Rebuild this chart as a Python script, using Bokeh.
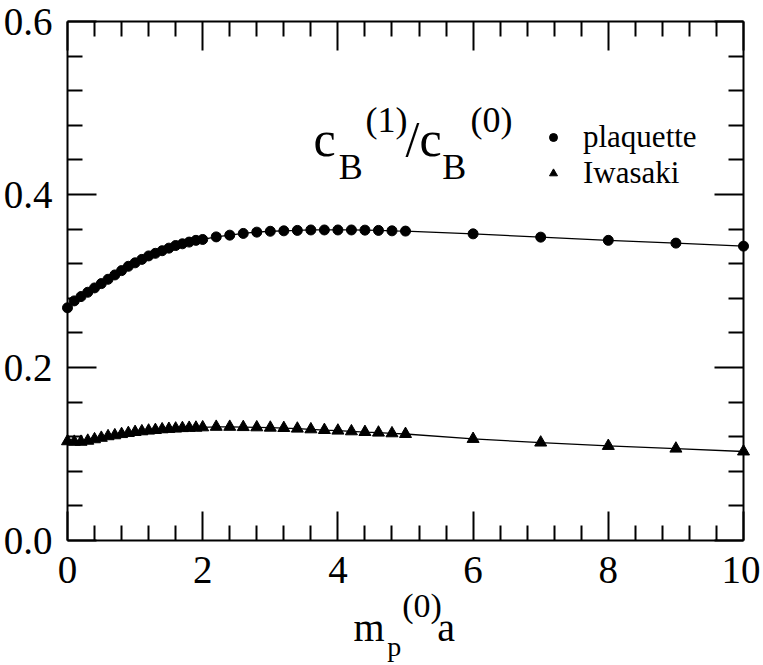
from bokeh.plotting import figure
from bokeh.models import (Range1d, LinearAxis, FixedTicker, PrintfTickFormatter,
                          Label, Legend, LegendItem, ColumnDataSource)
from bokeh.embed import file_html
from bokeh.resources import INLINE

FONT = "Liberation Serif"

# ---- data ----
x_plaq = [0.0, 0.1, 0.2, 0.3, 0.4, 0.5, 0.6, 0.7, 0.8, 0.9, 1.0,
          1.1, 1.2, 1.3, 1.4, 1.5, 1.6, 1.7, 1.8, 1.9, 2.0,
          2.2, 2.4, 2.6, 2.8, 3.0, 3.2, 3.4, 3.6, 3.8, 4.0,
          4.2, 4.4, 4.6, 4.8, 5.0, 6.0, 7.0, 8.0, 9.0, 10.0]
y_plaq = [0.269, 0.277, 0.282, 0.287, 0.292, 0.297, 0.302, 0.307, 0.312, 0.317, 0.321,
          0.325, 0.329, 0.332, 0.335, 0.338, 0.341, 0.343, 0.345, 0.347, 0.348,
          0.351, 0.353, 0.355, 0.3565, 0.3575, 0.358, 0.3585, 0.359, 0.359, 0.359,
          0.359, 0.3588, 0.3585, 0.358, 0.3577, 0.3545, 0.3507, 0.347, 0.3438, 0.3403]

x_iwa = [0.0, 0.1, 0.2, 0.3, 0.4, 0.5, 0.6, 0.7, 0.8, 0.9, 1.0,
         1.1, 1.2, 1.3, 1.4, 1.5, 1.6, 1.7, 1.8, 1.9, 2.0,
         2.2, 2.4, 2.6, 2.8, 3.0, 3.2, 3.4, 3.6, 3.8, 4.0,
         4.2, 4.4, 4.6, 4.8, 5.0, 6.0, 7.0, 8.0, 9.0, 10.0]
y_iwa = [0.1147, 0.1141, 0.1141, 0.1153, 0.117, 0.1187, 0.1205, 0.1216, 0.123, 0.1242, 0.1254,
         0.1262, 0.127, 0.1277, 0.1285, 0.129, 0.1294, 0.1299, 0.1302, 0.1304, 0.1308,
         0.1314, 0.1314, 0.1311, 0.1308, 0.1304, 0.130, 0.1293, 0.1285, 0.1277, 0.127,
         0.1262, 0.1254, 0.1247, 0.1239, 0.1231, 0.1174, 0.1132, 0.1093, 0.1062, 0.1029]

x_major = [0, 2, 4, 6, 8, 10]
x_minor = [0.4, 0.8, 1.2, 1.6, 2.4, 2.8, 3.2, 3.6, 4.4, 4.8, 5.2, 5.6,
           6.4, 6.8, 7.2, 7.6, 8.4, 8.8, 9.2, 9.6]
y_major = [0.0, 0.2, 0.4, 0.6]
y_minor = [0.04, 0.08, 0.12, 0.16, 0.24, 0.28, 0.32, 0.36, 0.44, 0.48, 0.52, 0.56]

series_names = ["plaquette", "Iwasaki"]

# ---- layout (pixels): the frame fills the canvas, axes sit at fixed places ----
W, H = 760, 664
X0_PX, X_PX_PER = 67, 67.6        # canvas column of x = 0, pixels per x unit
Y0_PX, Y_TOP_PX = 540, 21          # canvas rows of y = 0 and y = 0.6
X_LO, X_HI = 0, 10
Y_LO, Y_HI = 0.0, 0.6
Y_PX_PER = (Y0_PX - Y_TOP_PX) / (Y_HI - Y_LO)

x_range = Range1d(-X0_PX / X_PX_PER, (W - X0_PX) / X_PX_PER)
y_range = Range1d(-(H - Y0_PX) / Y_PX_PER, Y0_PX / Y_PX_PER)

p = figure(width=W, height=H, output_backend="svg", toolbar_location=None,
           x_range=x_range, y_range=y_range,
           x_axis_location=None, y_axis_location=None,
           min_border_left=0, min_border_right=0, min_border_top=0,
           min_border_bottom=0)
p.grid.visible = False
p.outline_line_color = None
p.background_fill_color = "white"
p.border_fill_color = "white"


def make_axis(major, minor, fmt, show, standoff, **kw):
    ax = LinearAxis(ticker=FixedTicker(ticks=major, minor_ticks=minor),
                    formatter=PrintfTickFormatter(format=fmt), **kw)
    ax.major_tick_in = 29
    ax.major_tick_out = 0
    ax.minor_tick_in = 15
    ax.minor_tick_out = 0
    ax.axis_line_width = 2
    ax.major_tick_line_width = 2
    ax.minor_tick_line_width = 2
    ax.axis_line_color = "black"
    ax.major_tick_line_color = "black"
    ax.minor_tick_line_color = "black"
    ax.major_label_text_font = FONT
    if show:
        ax.major_label_text_color = "black"
        ax.major_label_text_font_size = "39px"
        ax.major_label_standoff = standoff
    else:
        ax.major_label_text_color = None
        ax.major_label_text_font_size = "1px"
        ax.major_label_standoff = 0
    return ax


p.add_layout(make_axis(x_major, x_minor, "%d", True, 16,
                       fixed_location=Y_LO, bounds=(X_LO, X_HI)), "below")
p.add_layout(make_axis(y_major, y_minor, "%.1f", True, 15,
                       fixed_location=X_LO, bounds=(Y_LO, Y_HI)), "left")
p.add_layout(make_axis(x_major, x_minor, "%d", False, 0,
                       fixed_location=Y_HI, bounds=(X_LO, X_HI)), "above")
p.add_layout(make_axis(y_major, y_minor, "%.1f", False, 0,
                       fixed_location=X_HI, bounds=(Y_LO, Y_HI)), "right")

src_p = ColumnDataSource(dict(x=x_plaq, y=y_plaq))
src_i = ColumnDataSource(dict(x=x_iwa, y=y_iwa))

p.line("x", "y", source=src_p, line_color="black", line_width=1.3)
p.line("x", "y", source=src_i, line_color="black", line_width=1.3)
r1 = p.scatter("x", "y", source=src_p, marker="circle", size=10,
               fill_color="black", line_color="black")
r2 = p.scatter("x", "y", source=src_i, marker="triangle", size=12,
               fill_color="black", line_color="black")

legend = Legend(items=[LegendItem(label=series_names[0], renderers=[r1]),
                       LegendItem(label=series_names[1], renderers=[r2])],
                location=(543, 473))
legend.border_line_color = None
legend.background_fill_alpha = 0
legend.padding = 0
legend.margin = 0
legend.spacing = 0
legend.glyph_width = 20
legend.glyph_height = 20
legend.label_standoff = 20
legend.label_text_font = FONT
legend.label_text_font_size = "31px"
legend.label_text_color = "black"
p.add_layout(legend)


def lab(text, x, y, size):
    p.add_layout(Label(x=x, y=y, text=text, text_font=FONT,
                       text_font_size=f"{size}px", text_align="left",
                       text_baseline="middle", text_color="black"))


# title inside the plot: c_B^(1)/c_B^(0)
lab("c", 3.639, 0.4646, 50)
lab("B", 4.013, 0.4322, 36)
lab("(1)", 4.408, 0.4857, 36)
lab("/c", 5.0, 0.4646, 50)
lab("B", 5.543, 0.4322, 36)
lab("(0)", 5.962, 0.4857, 36)

# x title m_p^(0) a under the x axis
lab("m", 4.231, -0.1000, 40)
lab("p", 4.729, -0.1220, 28)
lab("(0)", 4.951, -0.0757, 34)
lab("a", 5.469, -0.1000, 40)

open("out.html", "w").write(file_html(p, INLINE))
